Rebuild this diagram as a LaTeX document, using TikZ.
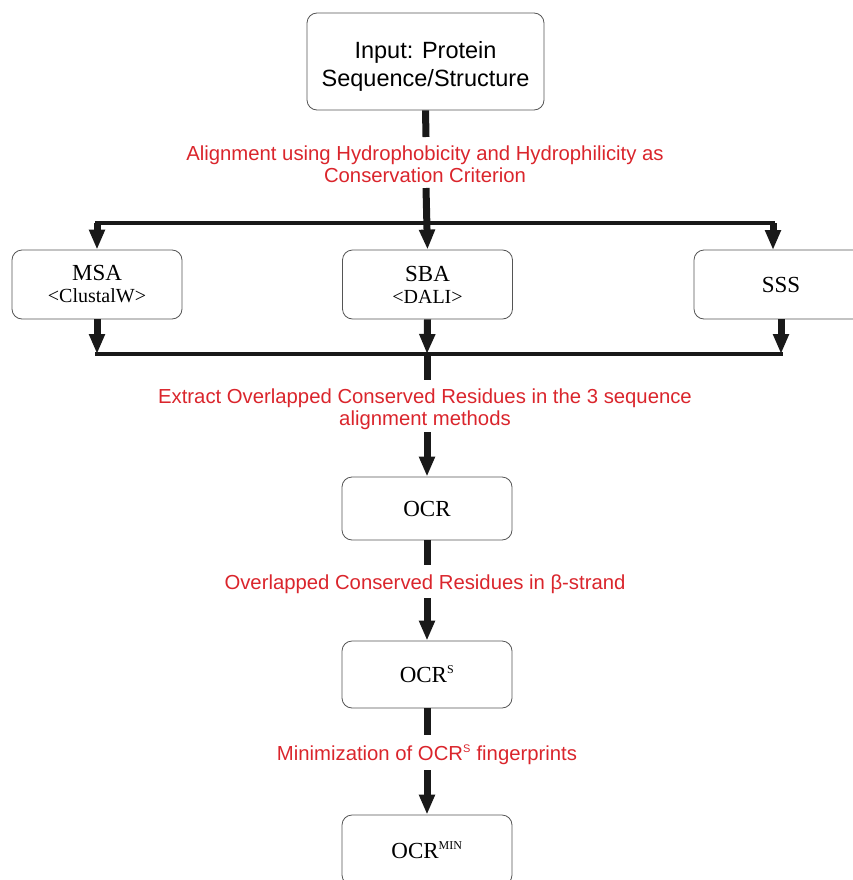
\documentclass[tikz,border=0pt]{standalone}
\usepackage{fontspec}
\setmainfont{Liberation Serif}
\newfontfamily\lsans{Liberation Sans}
\usetikzlibrary{arrows.meta}
\definecolor{lred}{RGB}{218,37,44}
\definecolor{bgray}{RGB}{85,85,85}
\tikzset{
  box/.style={draw=bgray, line width=0.8pt, rounded corners=10pt, align=center, inner sep=0pt},
  lab/.style={text=lred, font=\lsans\fontsize{20.3}{22}\selectfont, align=center, inner sep=0pt},
  shaft/.style={line width=7pt, draw=black!90},
  arr/.style={line width=7pt, draw=black!90, -{Triangle[length=20pt,width=15pt]}},
  bar/.style={line width=4pt, draw=black!90, line cap=rect},
  stxt/.style={font=\fontsize{23}{25}\selectfont},
  twoline/.style={font=\fontsize{23}{22}\selectfont},
}
\newcommand{\boxsup}[1]{\textsuperscript{\fontsize{12}{12}\selectfont #1}}
\newcommand{\labsup}[1]{\textsuperscript{\fontsize{11}{11}\selectfont #1}}
\begin{document}
\begin{tikzpicture}[x=1pt,y=-1pt]
\useasboundingbox (0,0) rectangle (853,880);
% boxes
\node[box, minimum width=237pt, minimum height=97pt, font=\lsans\fontsize{23.5}{28}\selectfont] (inp) at (425.5,61.5) {\rule{0pt}{26pt}Input: Protein\\Sequence/Structure};
\node[box, minimum width=170pt, minimum height=69pt, twoline] (msa) at (97,284.5) {MSA\\{\fontsize{20}{22}\selectfont <ClustalW>}};
\node[box, minimum width=170pt, minimum height=69pt, twoline] (sba) at (427.5,284.5) {SBA\\{\fontsize{20}{22}\selectfont <DALI>}};
\node[box, minimum width=174pt, minimum height=69pt, stxt] (sss) at (781,284.5) {SSS};
\node[box, minimum width=170pt, minimum height=63pt, stxt] (ocr) at (427,508.5) {OCR};
\node[box, minimum width=170pt, minimum height=67pt, stxt] (ocrs) at (427,674.5) {OCR\boxsup{S}};
\node[box, minimum width=170pt, minimum height=70pt, stxt] (ocrmin) at (427,850) {OCR\boxsup{MIN}};
% labels
\node[lab] (l1) at (425,164) {Alignment using Hydrophobicity and Hydrophilicity as\\Conservation Criterion};
\node[lab] (l2) at (425,409) {Extract Overlapped Conserved Residues in the 3 sequence\\alignment methods};
\node[lab] (l3) at (425,584) {Overlapped Conserved Residues in β-strand};
\node[lab] (l4) at (427,755) {Minimization of OCR\labsup{S} fingerprints};
% coordinates
\coordinate (a1) at (426,137);
\coordinate (a2) at (426,188);
\coordinate (t1) at (97,223);
\coordinate (t2) at (773,223);
\coordinate (sssT) at (773,250);
\coordinate (sssB) at (781,319);
\coordinate (b1) at (97,354);
\coordinate (b2) at (427,354);
\coordinate (b3) at (781,354);
\coordinate (c1) at (427,380);
\coordinate (c2) at (427,432);
\coordinate (d1) at (427,565);
\coordinate (d2) at (427,598);
\coordinate (e1) at (427,735);
\coordinate (e2) at (427,770);
% connectors
\draw[shaft] (inp.south) -- (a1);
\draw[bar] (t1) -- (t2);
\draw[arr] (a2) -- (sba.north);
\draw[arr] (t1) -- (msa.north);
\draw[arr] (t2) -- (sssT);
\draw[arr] (msa.south) -- (b1);
\draw[arr] (sba.south) -- (b2);
\draw[arr] (sssB) -- (b3);
\draw[bar] (b1) -- (b3);
\draw[shaft] (b2) -- (c1);
\draw[arr] (c2) -- (ocr.north);
\draw[shaft] (ocr.south) -- (d1);
\draw[arr] (d2) -- (ocrs.north);
\draw[shaft] (ocrs.south) -- (e1);
\draw[arr] (e2) -- (ocrmin.north);
\end{tikzpicture}
\end{document}
